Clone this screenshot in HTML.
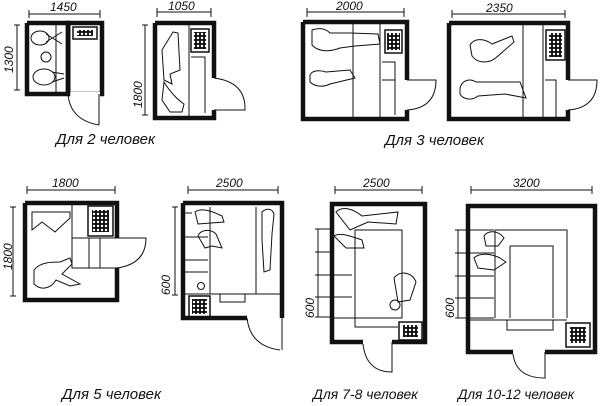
<!DOCTYPE html>
<html><head><meta charset="utf-8"><style>
html,body{margin:0;padding:0;background:#fff}
svg{display:block}
text{font-family:"Liberation Sans",sans-serif;font-style:italic;fill:#111}
</style></head><body>
<svg width="600" height="406" viewBox="0 0 600 406" xmlns="http://www.w3.org/2000/svg">
<defs>
<pattern id="grid" width="4" height="4" patternUnits="userSpaceOnUse"><rect width="4" height="4" fill="#111"/><circle cx="2" cy="2" r="1.2" fill="#fff"/></pattern>
</defs>
<g fill="none" stroke="#111" stroke-width="1">
<!-- ===== Plan 1 ===== -->
<path d="M29,14 H100 M29,10 V18 M100,10 V18"/>
<path d="M17,25 V90 M14,25 H20 M14,90 H20"/>
<path d="M68,94 V23 H102 V94 H68" stroke-width="4.5"/>
<rect x="70" y="92" width="30" height="5" fill="#fff" stroke="none"/>
<path d="M56,25 V92 M70,25 V92"/>
<rect x="73" y="27" width="24" height="12" stroke-width="1.5"/>
<rect x="77" y="30" width="16" height="6" fill="url(#grid)" stroke="none"/>
<path d="M99,94 V125 M68,94 Q70,120 99,125"/>
<ellipse cx="40" cy="38" rx="9" ry="7"/><path d="M46,34 L62,44 M46,42 L62,32"/>
<circle cx="46" cy="57" r="5"/>
<ellipse cx="44" cy="77" rx="11" ry="8"/><path d="M52,72 L64,74 M52,82 L64,78"/>
<path d="M27,23 H68 V94 H27 V23" stroke-width="4.5"/>
<!-- ===== Plan 2 ===== -->
<path d="M157,12 H211 M157,8 V17 M211,8 V17"/>
<path d="M145,25 V115 M142,25 H148 M142,115 H148"/>
<path d="M155,23 H214 V78 M214,110 V118 H155 V23" stroke-width="4.5"/>
<path d="M189,25 V116 M191,57 H205 V113"/>
<rect x="191" y="29" width="18" height="23" stroke-width="1.5"/>
<rect x="194" y="32" width="12" height="17" fill="url(#grid)" stroke="none"/>
<path d="M214,110 H245 Q246,82 214,78"/>
<path d="M173,32 L178,33 L180,70 L170,74 L172,84 L164,80 L162,50 Z M164,82 C170,92 178,100 184,104 L182,112 L170,112 L162,100 Z"/>
<!-- ===== Plan 3 ===== -->
<path d="M307,12 H404 M307,8 V17 M404,8 V17"/>
<path d="M303,22 H407 V80 M407,110 V119 H303 V22" stroke-width="4.5"/>
<path d="M353,24 V117 M380,24 V117 M382,62 H395 V80 M382,80 H395 V115"/>
<rect x="385" y="30" width="17" height="23" stroke-width="1.5"/>
<rect x="387" y="33" width="13" height="17" fill="url(#grid)" stroke="none"/>
<path d="M407,110 Q436,108 436,80 H407"/>
<path d="M312,30 C318,28 325,28 330,33 H350 L378,34 L380,44 L355,46 L340,48 C330,52 318,52 312,45 Z"/>
<path d="M310,75 C312,70 320,70 326,72 L350,70 L355,78 L330,84 C322,88 314,86 310,82 Z"/>
<!-- ===== Plan 4 ===== -->
<path d="M452,14 H565 M452,10 V18 M565,10 V18"/>
<path d="M449,23 H568 V80 M568,110 V119 H449 V23" stroke-width="4.5"/>
<path d="M523,25 V117 M543,25 V117 M545,80 H556 V117"/>
<rect x="546" y="30" width="19" height="30" stroke-width="1.5"/>
<rect x="549" y="33" width="13" height="24" fill="url(#grid)" stroke="none"/>
<path d="M568,110 Q597,108 597,80 H568"/>
<path d="M470,45 C474,38 484,38 492,44 L512,36 L514,42 L498,56 C490,64 478,64 472,56 Z"/>
<path d="M460,88 C462,80 470,78 476,82 H520 L526,98 L505,94 L478,96 C470,102 462,98 460,94 Z"/>
</g>
<text x="56" y="144" font-size="15">Для  2  человек</text>
<text x="385" y="145" font-size="15">Для  3  человек</text>
<text x="50" y="11" font-size="12">1450</text>
<text x="168" y="10" font-size="12">1050</text>
<text x="336" y="10" font-size="12">2000</text>
<text x="486" y="12" font-size="12">2350</text>
<text x="13" y="73" font-size="12" transform="rotate(-90 13 73)">1300</text>
<text x="142" y="108" font-size="12" transform="rotate(-90 142 108)">1800</text>

<g fill="none" stroke="#111" stroke-width="1">
<!-- ===== Plan 5 ===== -->
<path d="M27,190 H115 M27,186 V194 M115,186 V194"/>
<path d="M13,207 V296 M10,207 H16 M10,296 H16"/>
<path d="M25,203 H117 V238 M117,268 V300 H25 V203" stroke-width="4.5"/>
<path d="M72,205 V268 H117 M89,238 V268 M100,238 V268 M72,238 H117"/>
<rect x="88" y="206" width="25" height="30" stroke-width="1.5"/>
<rect x="92" y="210" width="17" height="22" fill="url(#grid)" stroke="none"/>
<path d="M117,238 H146 Q146,264 117,268"/>
<path d="M32,212 H70 V218 L55,232 L42,222 L32,230 Z"/>
<path d="M34,270 C40,262 52,262 60,262 L70,258 L72,264 L62,274 L80,284 L70,286 L56,280 C50,290 40,290 34,284 Z"/>
<!-- ===== Plan 6 ===== -->
<path d="M188,190 H278 M188,186 V194 M278,186 V194"/>
<path d="M175,207 V295 M172,207 H178 M172,295 H178"/>
<path d="M183,203 H282 V318 M247,318 H183 V203" stroke-width="4.5"/>
<path d="M282,318 V350"/>
<path d="M210,207 V294 M185,294 H282 M185,213 H192 M185,237 H208 M185,260 H208 M185,272 H208 M256,207 V294 M220,294 V302 H245 V294"/>
<rect x="189" y="296" width="21" height="21" stroke-width="1.5"/>
<rect x="192" y="299" width="15" height="15" fill="url(#grid)" stroke="none"/>
<circle cx="201" cy="286" r="3.5"/>
<path d="M247,318 Q250,346 280,350"/>
<path d="M195,212 C200,208 210,210 222,216 L224,222 L198,224 Z"/>
<path d="M198,236 C200,230 210,228 216,234 L222,248 L212,246 L205,248 Z"/>
<path d="M262,212 C266,208 272,208 274,214 L272,234 L270,270 L264,272 L262,240 Z"/>
<!-- ===== Plan 7 ===== -->
<path d="M335,190 H422 M335,186 V194 M422,186 V194"/>
<path d="M318,229 V317 M315,229 H332 M315,252 H332 M315,275 H332 M315,297 H332 M315,317 H332"/>
<path d="M363,342 H332 V204 H425 V342 H392" stroke-width="4.5"/>
<path d="M355,230 H402 V318 H355 Z M334,318 H402 M355,318 V327 H398 M334,275 H352 M334,297 H352"/>
<rect x="399" y="322" width="23" height="18" stroke-width="1.5"/>
<rect x="403" y="325" width="15" height="12" fill="url(#grid)" stroke="none"/>
<path d="M392,342 V372 Q366,372 363,344"/>
<path d="M336,212 C342,206 352,208 362,216 L398,212 L396,224 L368,222 L350,230 Z"/>
<path d="M334,236 C340,232 350,236 362,240 L364,248 L346,248 Z"/>
<path d="M394,278 C400,270 412,272 416,282 L410,300 L398,302 Z"/>
<circle cx="395" cy="305" r="5"/>
<!-- ===== Plan 8 ===== -->
<path d="M471,190 H592 M471,186 V194 M592,186 V194"/>
<path d="M458,230 V318 M455,230 H494 M455,253 H494 M455,276 H494 M455,298 H494 M455,318 H494"/>
<path d="M513,352 H468 V206 H595 V352 H545" stroke-width="4.5"/>
<path d="M495,230 H567 V318 M495,230 V318 M510,246 H553 V318 M510,246 V318 M470,320 H567 M507,320 V330 H553 V320"/>
<rect x="566" y="323" width="24" height="24" stroke-width="1.5"/>
<rect x="570" y="327" width="16" height="16" fill="url(#grid)" stroke="none"/>
<path d="M545,352 V378 Q516,378 513,354"/>
<path d="M484,236 C488,230 498,230 504,238 L498,246 L486,246 Z"/>
<path d="M474,258 C480,252 492,254 500,258 L506,262 L494,270 L478,268 Z"/>
</g>
<text x="62" y="399" font-size="15">Для   5    человек</text>
<text x="313" y="399" font-size="14">Для 7-8 человек</text>
<text x="458" y="399" font-size="13.5">Для 10-12 человек</text>
<text x="52" y="187" font-size="12">1800</text>
<text x="216" y="187" font-size="12">2500</text>
<text x="363" y="187" font-size="12">2500</text>
<text x="513" y="187" font-size="12">3200</text>
<text x="12" y="270" font-size="12" transform="rotate(-90 12 270)">1800</text>
<text x="170" y="295" font-size="12" transform="rotate(-90 170 295)">600</text>
<text x="314" y="318" font-size="12" transform="rotate(-90 314 318)">600</text>
<text x="454" y="318" font-size="12" transform="rotate(-90 454 318)">600</text>
</svg>
</body></html>
